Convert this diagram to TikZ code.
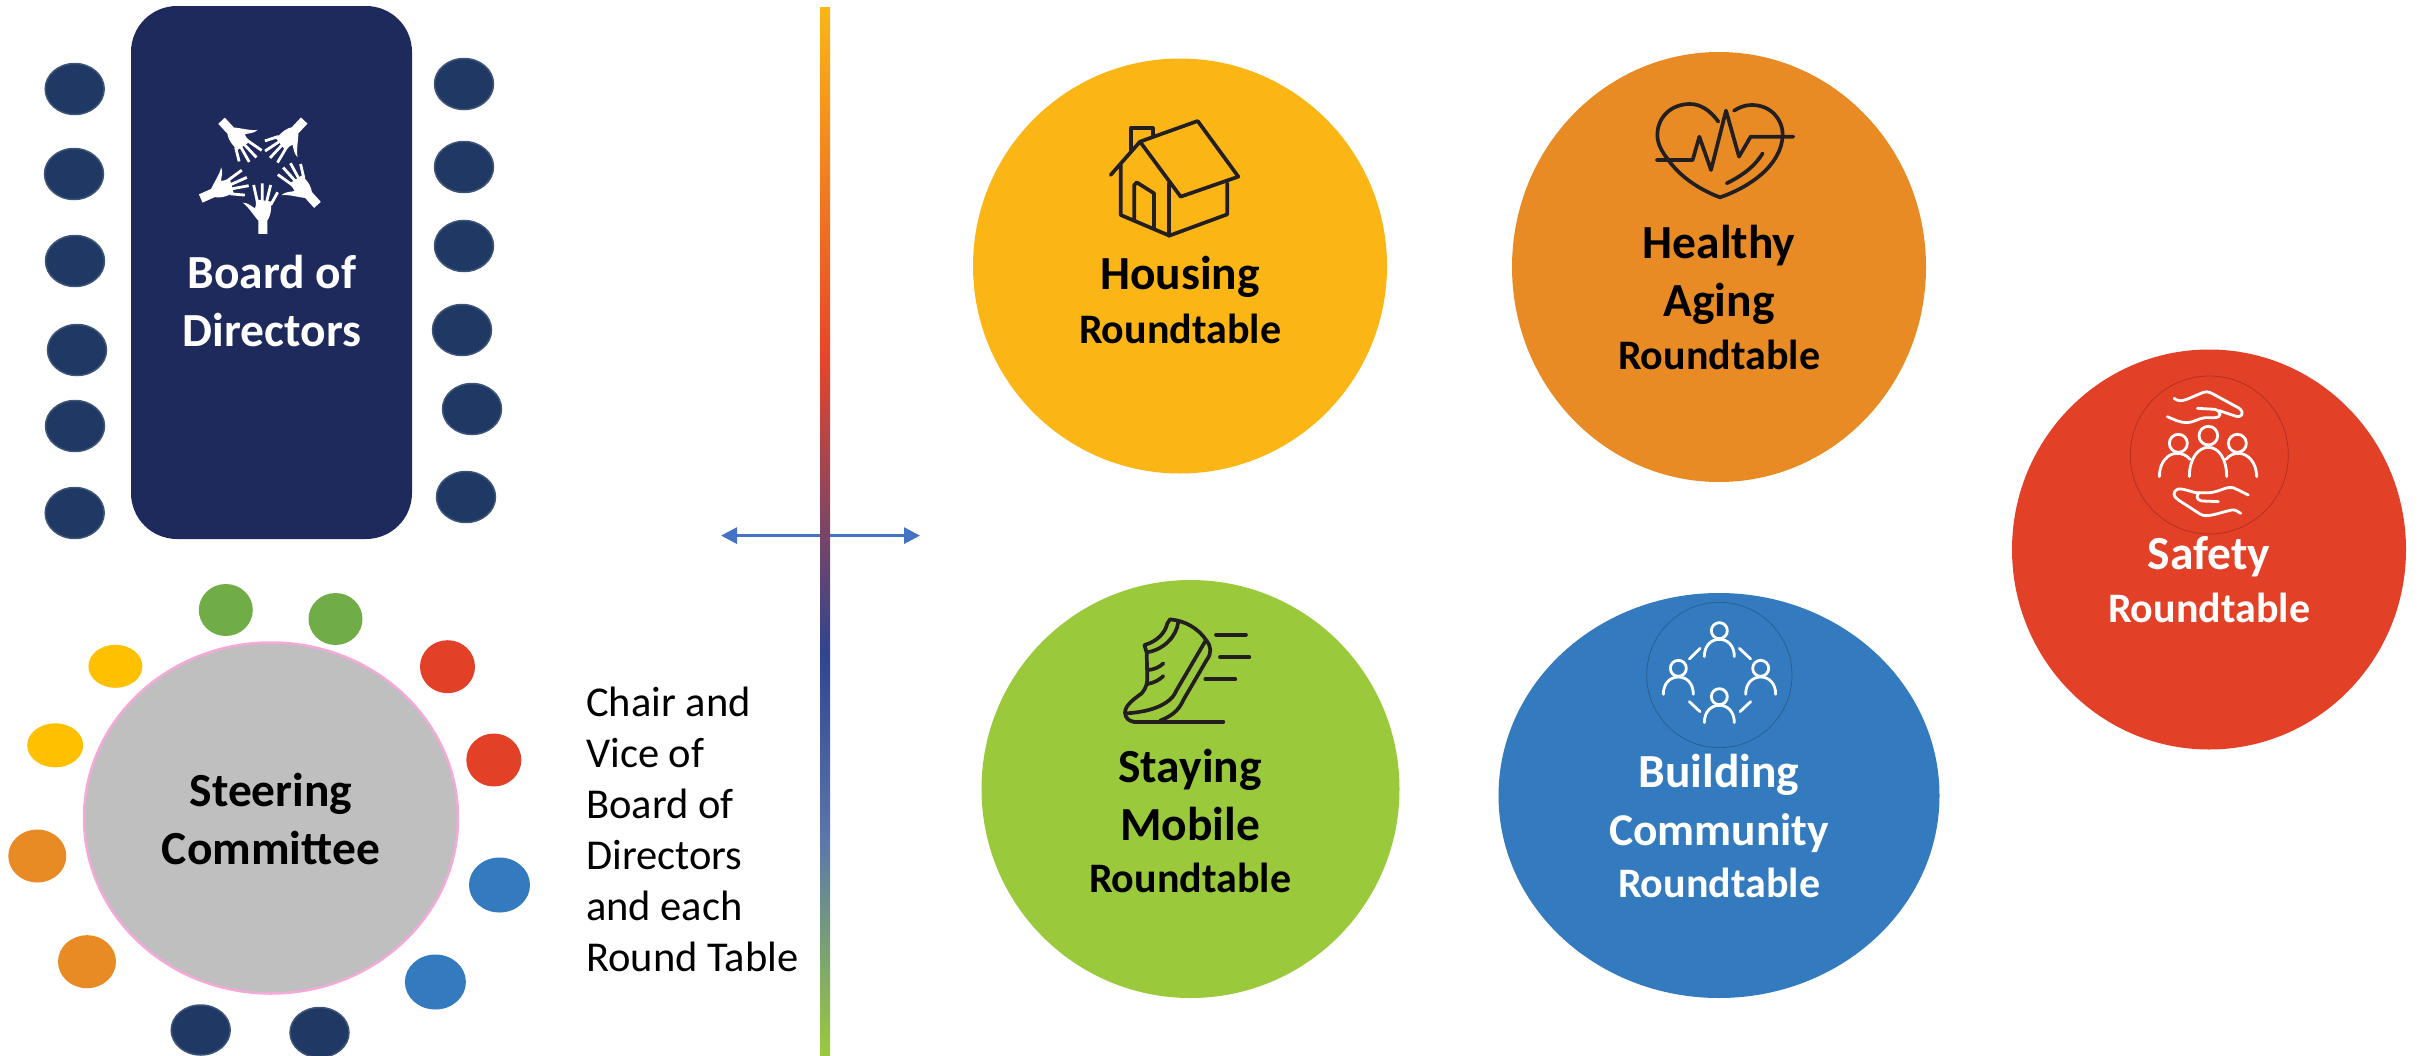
\documentclass[tikz,border=0pt]{standalone}
\usepackage{fontspec}
\setmainfont{Carlito}
\usetikzlibrary{shapes.geometric,arrows.meta}
\definecolor{navyrect}{HTML}{1F2A5C}
\definecolor{seat}{HTML}{203864}
\definecolor{seatedge}{HTML}{3F5578}
\definecolor{cyellow}{HTML}{FBB615}
\definecolor{corange}{HTML}{E98B24}
\definecolor{cred}{HTML}{E34028}
\definecolor{cgreen}{HTML}{9ACA3C}
\definecolor{cblue}{HTML}{337ABF}
\definecolor{cgold}{HTML}{FFC000}
\definecolor{cleaf}{HTML}{70AD47}
\definecolor{cgray}{HTML}{BFBFBF}
\definecolor{cpink}{HTML}{F4A9D8}
\definecolor{carrow}{HTML}{4472C4}
\definecolor{ink}{HTML}{231F20}
\definecolor{gtop}{HTML}{FBB615}
\definecolor{gred}{HTML}{E8452A}
\definecolor{gnavy}{HTML}{2F4590}
\definecolor{gblue}{HTML}{5B77AC}
\pgfdeclareverticalshading{gradbar}{100bp}{color(0bp)=(cgreen); color(25bp)=(cgreen); color(35.2bp)=(gblue); color(44.18bp)=(gnavy); color(58.3bp)=(gred); color(75bp)=(gtop); color(100bp)=(gtop)}
\tikzset{
  oval/.style={ellipse,inner sep=0pt,outer sep=0pt},
  seatoval/.style={oval,fill=seat,draw=seatedge,line width=1.5pt,minimum width=59pt,minimum height=51pt},
  title/.style={font=\fontsize{47.5}{58}\selectfont\bfseries,align=center,inner sep=0pt},
  subtitle/.style={font=\fontsize{42}{50}\selectfont\bfseries,inner sep=0pt},
  bodytext/.style={font=\fontsize{42.5}{51}\selectfont,align=left,inner sep=0pt},
  iconline/.style={line width=3.7pt,line cap=round,line join=round,draw=ink},
  whiteline/.style={line width=2.8pt,line cap=round,line join=round,draw=white},
}
\begin{document}
\begin{tikzpicture}[x=1pt,y=-1pt]
\useasboundingbox (0,0) rectangle (2420,1055);
% board table and seats
\node[rectangle,rounded corners=46pt,fill=navyrect,minimum width=281pt,minimum height=533pt,inner sep=0pt,outer sep=0pt] (board) at (271.5,272.5) {};
\foreach \n/\x/\y in {1/74.7/89,2/74/174,3/75/261,4/77/350,5/75/426,6/74.7/513}
  \node[seatoval] (bl\n) at (\x,\y) {};
\foreach \n/\x/\y in {1/464/84,2/464/167,3/464/246,4/462/330,5/472/409,6/466/497}
  \node[seatoval] (br\n) at (\x,\y) {};
\node[title,text=white] (boardtext) at (272,301) {Board of\\Directors};
% hands
\begin{scope}[shift={(170,90)},scale=0.3333]
\foreach \wx/\wy/\a in {278/432/0,442/345/42,403/92/137,155/92/-137,92/325/-66}{
\begin{scope}[shift={(\wx,\wy)},rotate=\a,shift={(-278,-432)}]
\fill[white] (265,432) -- (292,432) -- (292,392) .. controls (300,380) and (305,365) .. (303,335) -- (258,328) .. controls (258,345) and (258,350) .. (255,355) .. controls (245,350) and (235,338) .. (218,338) .. controls (235,350) and (250,375) .. (265,392) -- cycle;
\draw[white,line width=2.8pt] (251,285) -- (262,335) (277,280) -- (277,335) (302,285) -- (290,335) (323,307) -- (302,345);
\end{scope}}
\end{scope}
% steering committee
\node[oval,fill=cgray,draw=cpink,line width=2.5pt,minimum width=374pt,minimum height=351pt] (steer) at (271,818) {};
\node[title] (steertext) at (271,819) {Steering\\Committee};
\node[oval,fill=cleaf,minimum width=54pt,minimum height=52pt] (s1) at (225.8,610) {};
\node[oval,fill=cleaf,minimum width=54pt,minimum height=52pt] (s2) at (335.5,619) {};
\node[oval,fill=cred,minimum width=55pt,minimum height=53pt] (s3) at (447.5,666.7) {};
\node[oval,fill=cred,minimum width=55pt,minimum height=53pt] (s4) at (493.8,760) {};
\node[oval,fill=cblue,minimum width=61pt,minimum height=55pt] (s5) at (499.5,885) {};
\node[oval,fill=cblue,minimum width=61pt,minimum height=55pt] (s6) at (435.4,982) {};
\node[seatoval,minimum width=59pt,minimum height=50pt] (s7) at (319.5,1032.5) {};
\node[seatoval,minimum width=59pt,minimum height=50pt] (s8) at (200.7,1030) {};
\node[oval,fill=corange,minimum width=58pt,minimum height=53pt] (s9) at (87,961.7) {};
\node[oval,fill=corange,minimum width=58pt,minimum height=53pt] (s10) at (37.3,856) {};
\node[oval,fill=cgold,minimum width=56pt,minimum height=44pt] (s11) at (55.2,745.3) {};
\node[oval,fill=cgold,minimum width=54pt,minimum height=43pt] (s12) at (115.4,666.3) {};
% caption
\node[bodytext,anchor=north west] (chair) at (586,687) {Chair and\\Vice of\\Board of\\Directors\\and each\\Round Table};
% arrow and gradient bar
\coordinate (arrowL) at (721,535.6);
\coordinate (arrowR) at (920,535.6);
\draw[carrow,line width=3pt,{Triangle[length=16pt,width=16pt]}-{Triangle[length=16pt,width=16pt]}] (arrowL) -- (arrowR);
\node[rectangle,shade,shading=gradbar,minimum width=10pt,minimum height=1048pt,inner sep=0pt,outer sep=0pt] (bar) at (825,531) {};
% roundtables
\node[oval,fill=cyellow,minimum width=414pt,minimum height=415pt] (housing) at (1180,266) {};
\node[oval,fill=corange,minimum width=414pt,minimum height=430pt] (aging) at (1719,267) {};
\node[oval,fill=cred,minimum width=394pt,minimum height=400pt] (safety) at (2209,549.5) {};
\node[oval,fill=cgreen,minimum width=418pt,minimum height=418pt] (mobile) at (1190.5,789) {};
\node[oval,fill=cblue,minimum width=441pt,minimum height=405pt] (community) at (1719,795.5) {};
\node[title] (t1) at (1180,276.5) {Housing};
\node[subtitle] (r1) at (1180,329) {Roundtable};
\node[title] (t2) at (1719,275) {Healthy\\Aging};
\node[subtitle] (r2) at (1719,355) {Roundtable};
\node[title,text=white] (t3) at (2209,557) {Safety};
\node[subtitle,text=white] (r3) at (2209,608) {Roundtable};
\node[title] (t4) at (1190,795) {Staying\\Mobile};
\node[subtitle] (r4) at (1190,878) {Roundtable};
\node[title,text=white] (t5) at (1719,803) {Building\\{\fontsize{45.5}{58}\selectfont Community}};
\node[subtitle,text=white] (r5) at (1719,883) {Roundtable};
% house icon
\begin{scope}[shift={(1090,100)},scale=0.3333]
\draw[iconline] (122,150) -- (122,85) -- (188,85) -- (188,108);
\draw[iconline] (62,225) -- (150,125) -- (323,63) -- (445,230) -- (272,290) -- (150,125);
\draw[iconline] (92,195) -- (92,345) -- (238,407) -- (412,343) -- (412,250);
\draw[iconline] (238,407) -- (238,250);
\draw[iconline] (192,385) -- (192,280) -- (140,247) -- (133,255) -- (133,360);
\end{scope}
% heart icon
\begin{scope}[shift={(1640,80)},scale=0.3333]
\draw[iconline] (235,125) .. controls (210,90) and (180,72) .. (150,72) .. controls (90,72) and (52,115) .. (52,165) .. controls (52,190) and (65,215) .. (85,240) .. controls (120,290) and (180,330) .. (240,352) .. controls (320,325) and (425,260) .. (428,165) .. controls (428,115) and (390,75) .. (335,75) .. controls (315,75) and (298,82) .. (282,92);
\draw[iconline] (50,240) -- (158,240) -- (178,170) -- (213,270) -- (258,92) -- (297,230) -- (332,170) -- (460,170);
\draw[iconline] (260,310) .. controls (300,290) and (340,265) .. (368,220);
\end{scope}
% shoe icon
\begin{scope}[shift={(1110,600)},scale=0.3333]
\draw[iconline] (318,104) -- (408,104) (330,172) -- (418,172) (286,238) -- (376,238);
\draw[iconline] (72,365) -- (340,365);
\draw[iconline] (180,58) -- (172,70) .. controls (165,100) and (140,125) .. (103,135) -- (110,157) .. controls (160,150) and (200,110) .. (205,65);
\draw[iconline] (180,58) .. controls (225,62) and (265,85) .. (288,120) .. controls (305,140) and (305,160) .. (290,180) -- (220,300) .. controls (205,335) and (180,350) .. (150,362);
\draw[iconline] (288,120) -- (200,270) .. controls (185,310) and (130,335) .. (50,340);
\draw[iconline] (110,157) -- (112,240) .. controls (110,260) and (103,270) .. (95,280) .. controls (75,295) and (45,315) .. (45,338) .. controls (45,355) and (60,365) .. (72,365);
\draw[iconline] (115,210) .. controls (135,208) and (150,200) .. (160,190);
\draw[iconline] (112,252) .. controls (135,248) and (150,238) .. (160,228);
\end{scope}
% safety icon
\begin{scope}[shift={(2110,370)},scale=0.3333]
\draw[cred!75!black,line width=0.7pt] (298,255) ellipse [x radius=237,y radius=237];
\draw[whiteline] (205,220) circle [radius=27] (295,197) circle [radius=28] (382,220) circle [radius=27];
\draw[whiteline] (238,320) .. controls (238,265) and (265,232) .. (295,232) .. controls (325,232) and (350,265) .. (350,320);
\draw[whiteline] (148,320) .. controls (148,275) and (175,250) .. (200,250) .. controls (215,250) and (230,255) .. (240,268);
\draw[whiteline] (348,268) .. controls (358,255) and (372,250) .. (385,250) .. controls (415,250) and (440,280) .. (440,320);
\draw[whiteline] (192,85) .. controls (205,95) and (215,93) .. (230,88) -- (280,67) .. controls (295,62) and (305,70) .. (320,78) -- (388,115) .. controls (405,130) and (395,145) .. (375,138) -- (328,122);
\draw[whiteline] (262,115) -- (315,118) .. controls (335,125) and (335,142) .. (315,143) -- (285,143) .. controls (265,145) and (250,158) .. (230,158) .. controls (210,158) and (190,148) .. (172,140);
\draw[whiteline] (415,375) -- (370,353) .. controls (350,348) and (330,365) .. (300,368) -- (260,368) .. controls (250,368) and (220,355) .. (205,357) .. controls (185,365) and (190,380) .. (205,390) -- (270,432) .. controls (290,445) and (320,430) .. (365,420) .. controls (375,418) and (385,425) .. (392,430);
\draw[whiteline] (325,395) -- (275,393) .. controls (258,390) and (258,375) .. (268,368);
\end{scope}
% community icon
\begin{scope}[shift={(1630,590)},scale=0.3333]
\draw[cblue!75!black,line width=0.7pt] (268,255) circle [radius=218];
\foreach \x/\y in {268/122,145/235,392/235,268/320}{
  \draw[whiteline] (\x,\y) circle [radius=24];
  \draw[whiteline] (\x-45,\y+78) .. controls (\x-45,\y+45) and (\x-25,\y+26) .. (\x,\y+26) .. controls (\x+25,\y+26) and (\x+45,\y+45) .. (\x+45,\y+78);
}
\draw[whiteline] (178,207) -- (210,175) (328,175) -- (362,207) (178,335) -- (210,365) (330,365) -- (362,335);
\end{scope}
\end{tikzpicture}
\end{document}
